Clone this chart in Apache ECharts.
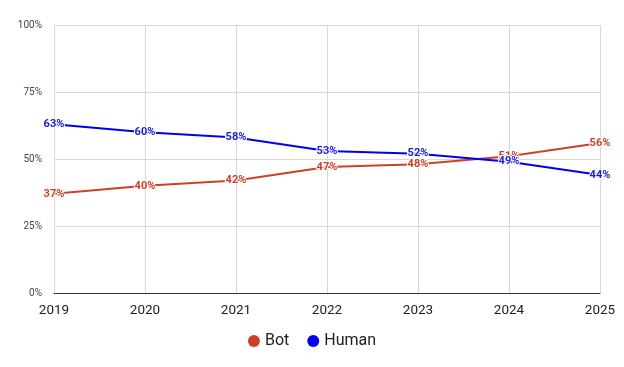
<!DOCTYPE html>
<html><head><meta charset="utf-8">
<script src="https://cdn.jsdelivr.net/npm/echarts@6/dist/echarts.min.js"></script>
<style>html,body{margin:0;padding:0;background:#fff}#c{width:624px;height:367px}</style>
</head><body><div id="c"></div>
<script>
var years = ['2019','2020','2021','2022','2023','2024','2025'];
var bot = [37, 40, 42, 47, 48, 51, 56];
var human = [63, 60, 58, 53, 52, 49, 44];
var yTicks = [0, 25, 50, 75, 100];

var chart = echarts.init(document.getElementById('c'));
function lbl(color){
  return {show:true, position:'inside', formatter:'{c}%', color:color, fontSize:11, fontWeight:'bold',
    fontFamily:'Roboto', textBorderColor:'#fff', textBorderWidth:2};
}
chart.setOption({
  animation:false,
  textStyle:{fontFamily:'Roboto'},
  grid:{left:54, right:24, top:25, bottom:74},
  legend:{top:328, left:'center', itemWidth:12, itemHeight:12, itemGap:18, icon:'circle',
    textStyle:{fontSize:16, color:'#222', fontFamily:'Roboto'}, data:['Bot','Human']},
  xAxis:{type:'category', data:years, boundaryGap:false,
    axisLine:{lineStyle:{color:'#333', width:1}}, axisTick:{show:false},
    axisLabel:{fontSize:13.5, color:'#222', margin:11},
    splitLine:{show:true, lineStyle:{color:'#d8d8d8'}}},
  yAxis:{type:'value', min:0, max:100, interval:25,
    axisLabel:{formatter:function(v){return yTicks.indexOf(v)>=0? v+'%':'';}, fontSize:10, color:'#444', margin:12},
    axisLine:{show:false}, axisTick:{show:false},
    splitLine:{lineStyle:{color:'#d8d8d8'}}},
  series:[
    {name:'Bot', type:'line', data:bot, color:'#cc4125', showSymbol:true, symbol:'circle', symbolSize:1,
      lineStyle:{width:2}, label:lbl('#cc4125'), z:2},
    {name:'Human', type:'line', data:human, color:'#0000ee', showSymbol:true, symbol:'circle', symbolSize:1,
      lineStyle:{width:2}, label:lbl('#1a1ad8'), z:3}
  ]
});
</script></body></html>
